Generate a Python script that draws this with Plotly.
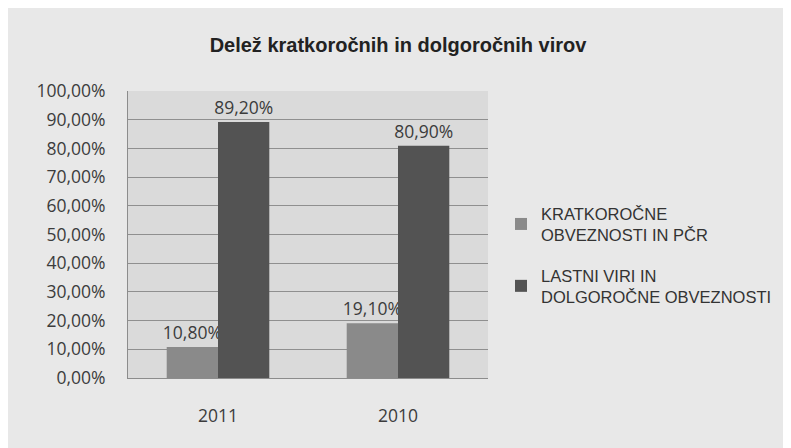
import plotly.graph_objects as go

categories = ["2011", "2010"]
series_names = ["KRATKOROČNE<br>OBVEZNOSTI IN PČR", "LASTNI VIRI IN<br>DOLGOROČNE OBVEZNOSTI"]
short_term = [0.108, 0.191]
long_term = [0.892, 0.809]
series_colors = ["#8a8a8a", "#535353"]
y_ticks = [i / 10 for i in range(11)]
title = "Delež kratkoročnih in dolgoročnih virov"


def fmt(v):
    return f"{v*100:.2f}%".replace(".", ",")


fig = go.Figure()
for name, vals, col, grp in zip(series_names, [short_term, long_term], series_colors, ["a", "b"]):
    fig.add_trace(go.Bar(
        x=categories, y=vals, name=name, marker=dict(color=col, line=dict(width=0)),
        text=[fmt(v) for v in vals], textposition="outside", textangle=0, constraintext="none",
        textfont=dict(family="Open Sans, Liberation Sans", size=17.5, color="#3c3c3c"),
        cliponaxis=False, legendgroup=grp,
    ))

OFF = 8  # page body margin
L, R, T, B = 128 - OFF, 488 - OFF, 91 - OFF, 378 - OFF
W, H = 791 - OFF, 448 - OFF
fig.update_layout(
    width=W, height=H,
    margin=dict(l=L, r=W - R, t=T, b=H - B, autoexpand=False),
    paper_bgcolor="#e8e8e8",
    plot_bgcolor="#dadada",
    barmode="group", bargap=0.43, bargroupgap=0,
    title=dict(text="<b>" + title + "</b>", x=(398 - OFF) / W, xanchor="center", y=1 - (45 - OFF) / H,
               yanchor="middle",
               font=dict(family="Liberation Sans, Arial", size=20, color="#222222")),
    font=dict(family="Open Sans, Liberation Sans", color="#3c3c3c"),
    legend=dict(x=(501 - OFF - L) / (R - L), y=(B - (196 - OFF)) / (B - T), xanchor="left", yanchor="top",
                bgcolor="rgba(0,0,0,0)", traceorder="grouped", tracegroupgap=16,
                font=dict(family="Liberation Sans, Arial", size=16.5, color="#333333"),
                itemwidth=30),
    xaxis=dict(showgrid=False, showline=True, linecolor="#8c8c8c", linewidth=1,
               ticks="", ticklabelstandoff=22, tickfont=dict(size=17.5, family="Open Sans, Liberation Sans"),
               fixedrange=True),
    yaxis=dict(range=[0, 1], tickvals=y_ticks, ticktext=[fmt(v) for v in y_ticks],
               showgrid=True, gridcolor="#8f8f8f", gridwidth=1, showline=True, linecolor="#8c8c8c",
               ticks="", ticklabelstandoff=18, zeroline=False,
               tickfont=dict(size=17.5, family="Open Sans, Liberation Sans")),
)
fig.write_html("out.html")
